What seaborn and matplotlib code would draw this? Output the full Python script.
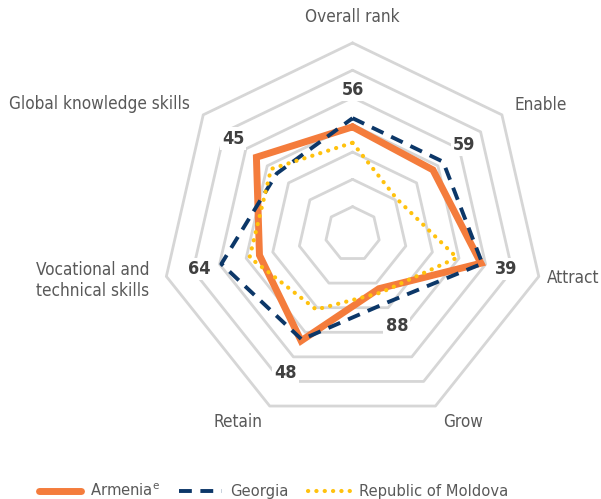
import numpy as np
import pandas as pd
import matplotlib
matplotlib.use("Agg")
import matplotlib.pyplot as plt
import seaborn as sns

# ranks (lower rank = further out)
categories = ["Overall rank", "Enable", "Attract", "Grow", "Retain",
              "Vocational and\ntechnical skills", "Global knowledge skills"]
armenia = [56, 59, 39, 88, 48, 64, 45]
georgia = [50, 50, 38, 77, 49, 37, 63]
moldova = [67, 91, 56, 85, 72, 57, 58]
rank_labels = ["56", "59", "39", "88", "48", "64", "45"]
series_names = ["Armenia$^\\mathregular{e}$", "Georgia", "Republic of Moldova"]

RANK_CENTER = 130      # rank that sits at the centre
OUTER = 132            # outer ring radius
N_RINGS = 7

sns.set_theme(style="white")
plt.rcParams["font.family"] = ["DejaVu Sans"]
plt.rcParams["font.stretch"] = "condensed"

n = len(categories)
theta = np.arange(n) * 2 * np.pi / n
theta_closed = np.append(theta, 2 * np.pi)

fig = plt.figure(figsize=(6.01, 4.99), dpi=100)
ax = fig.add_axes([0.2616, 0.1397, 0.6501, 0.7830], projection="polar")
ax.set_theta_zero_location("N")
ax.set_theta_direction(-1)
ax.grid(False)
ax.spines["polar"].set_visible(False)
ax.set_facecolor("none")

# heptagon rings
for k in range(1, N_RINGS + 1):
    rr = OUTER * k / N_RINGS
    ax.plot(theta_closed, [rr] * (n + 1), color="#d6d6d6", lw=2.0, zorder=1)

styles = [
    (armenia, "#f47c3c", 5.0, "-", "round"),
    (georgia, "#0c3768", 2.8, (0, (3.3, 2.2)), "butt"),
    (moldova, "#ffc20e", 3.0, (0, (0.05, 1.95)), "round"),
]
for name, (vals, col, lw, ls, cap) in zip(series_names, styles):
    r = RANK_CENTER - np.array(vals + vals[:1])
    df = pd.DataFrame({"theta": theta_closed, "r": r})
    sns.lineplot(data=df, x="theta", y="r", ax=ax, sort=False, estimator=None,
                 color=col, linewidth=lw, linestyle=ls, label=name,
                 dash_capstyle=cap, solid_joinstyle="miter", zorder=3)
ax.set_xlabel("")
ax.set_ylabel("")
ax.set_xticks([])
ax.set_yticks([])
ax.set_ylim(0, 135)

# Armenia rank values
label_r = [99.5, 98.8, 109, 70.5, 107, 108.5, 105.7]
for t, rr, txt in zip(theta, label_r, rank_labels):
    ax.text(t, rr, txt, ha="center", va="center", fontsize=13,
            fontweight="bold", color="#404040", zorder=4,
            bbox=dict(facecolor="white", edgecolor="none", pad=1.5))

# category labels
cat_r = [144, 143, 138, 144, 144, 144, 144]
cat_ha = ["center", "left", "left", "left", "right", "right", "right"]
cat_va = ["bottom", "center", "center", "center", "center", "center", "center"]
for t, rr, txt, ha, va in zip(theta, cat_r, categories, cat_ha, cat_va):
    ax.text(t, rr, txt, ha=ha, va=va, fontsize=12.3, color="#595959",
            multialignment="center", clip_on=False)

handles, labels = ax.get_legend_handles_labels()
ax.get_legend().remove()
fig.legend(handles, labels, loc="center", bbox_to_anchor=(0.455, 0.016),
           ncol=3, frameon=False, fontsize=11.8, handlelength=2.6,
           handletextpad=0.5, columnspacing=1.2, labelcolor="#595959")

fig.savefig("out.png", dpi=100)
